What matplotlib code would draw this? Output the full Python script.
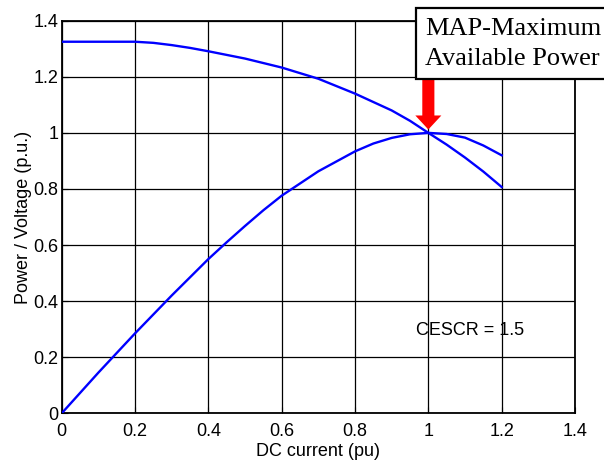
import matplotlib
matplotlib.use("Agg")
import matplotlib.pyplot as plt
from matplotlib.patches import Rectangle, FancyArrow
import numpy as np

# ---- data ----
current_v = [0.0, 0.1, 0.2, 0.25, 0.3, 0.35, 0.4, 0.5, 0.6, 0.7, 0.8, 0.9, 0.95, 1.0, 1.05, 1.1, 1.15, 1.2]
voltage = [1.325, 1.325, 1.325, 1.321, 1.313, 1.303, 1.291, 1.265, 1.233, 1.193, 1.14, 1.08, 1.043, 1.0, 0.958, 0.912, 0.862, 0.807]

current_p = [0.0, 0.1, 0.2, 0.3, 0.4, 0.45, 0.5, 0.55, 0.6, 0.7, 0.8, 0.85, 0.9, 0.95, 1.0, 1.05, 1.1, 1.15, 1.2]
power = [0.0, 0.145, 0.285, 0.42, 0.55, 0.61, 0.668, 0.724, 0.776, 0.863, 0.934, 0.962, 0.982, 0.995, 1.0, 0.996, 0.983, 0.955, 0.92]

xticks = [0, 0.2, 0.4, 0.6, 0.8, 1.0, 1.2, 1.4]
yticks = [0, 0.2, 0.4, 0.6, 0.8, 1.0, 1.2, 1.4]
xtick_labels = ["0", "0.2", "0.4", "0.6", "0.8", "1", "1.2", "1.4"]
ytick_labels = ["0", "0.2", "0.4", "0.6", "0.8", "1", "1.2", "1.4"]

W, H = 604, 463
fig = plt.figure(figsize=(W / 100, H / 100), dpi=100)
ax = fig.add_axes([61.7 / W, 1 - 413.3 / H, (575 - 61.7) / W, (413.3 - 20.7) / H])

sans = ["Liberation Sans", "DejaVu Sans"]
serif = ["Liberation Serif", "DejaVu Serif"]

ax.plot(current_v, voltage, color="#0000ff", lw=1.7, zorder=3)
ax.plot(current_p, power, color="#0000ff", lw=1.7, zorder=3)

ax.set_xlim(0, 1.4)
ax.set_ylim(0, 1.4)
ax.set_xticks(xticks)
ax.set_yticks(yticks)
ax.set_xticklabels(xtick_labels, fontfamily=sans, fontsize=13)
ax.set_yticklabels(ytick_labels, fontfamily=sans, fontsize=13)
ax.tick_params(axis="x", direction="in", length=4, pad=7, colors="black")
ax.tick_params(axis="y", direction="in", length=4, pad=2.5, colors="black")
ax.grid(True, color="black", lw=0.9, ls="-")
ax.set_axisbelow(False)
for s in ax.spines.values():
    s.set_linewidth(1.3)
    s.set_color("black")

ax.set_xlabel("DC current (pu)", fontfamily=sans, fontsize=13, labelpad=2)
ax.set_ylabel("Power / Voltage (p.u.)", fontfamily=sans, fontsize=13, labelpad=1)

ax.text(0.965, 0.295, "CESCR = 1.5", fontfamily=sans, fontsize=13,
        ha="left", va="center", zorder=4)

# Arrow pointing to the maximum power point
imax = int(np.argmax(power))
px, py = current_p[imax], power[imax]
tip_y = py + 0.012
tail_y = 1.19
arr = FancyArrow(px, tail_y, 0, tip_y - tail_y, width=0.033, head_width=0.071,
                 head_length=0.05, length_includes_head=True,
                 color="#ff0000", lw=0, zorder=6, clip_on=False)
ax.add_patch(arr)

# Annotation box in figure pixel space
box = Rectangle((416 / W, 1 - 79.3 / H), 0.4, (79.3 - 8.3) / H,
                transform=fig.transFigure, facecolor="white",
                edgecolor="black", lw=1.6, zorder=5)
fig.add_artist(box)
fig.text(425 / W, 1 - 35 / H, "MAP-Maximum", fontfamily=serif, fontsize=19,
         ha="left", va="baseline", zorder=6)
fig.text(425 / W, 1 - 65 / H, "Available Power", fontfamily=serif, fontsize=19,
         ha="left", va="baseline", zorder=6)

fig.savefig("out.png", dpi=100)
